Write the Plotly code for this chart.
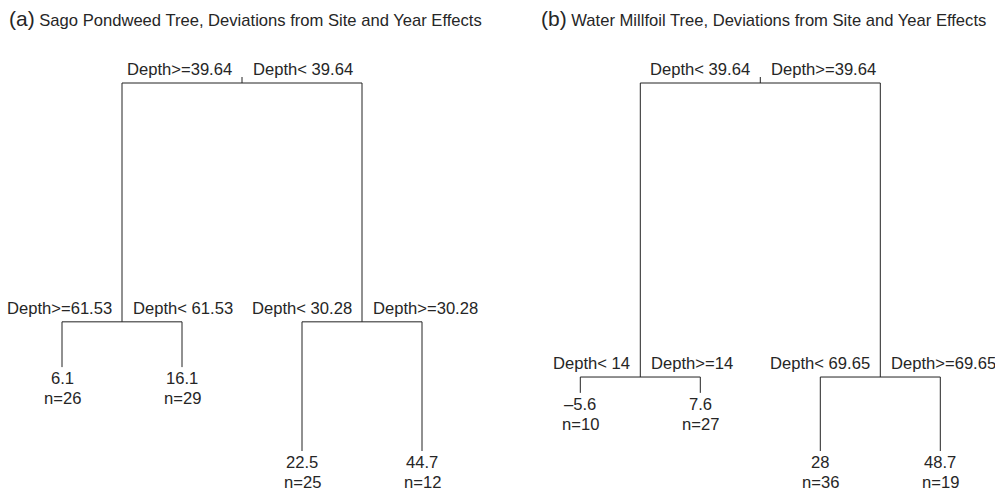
import plotly.graph_objects as go

# ---- data -------------------------------------------------------------
titles = ["Sago Pondweed Tree, Deviations from Site and Year Effects",
          "Water Millfoil Tree, Deviations from Site and Year Effects"]
panel_tags = ["(a)", "(b)"]

# split labels: [root, left child, right child]
a_split_left = ["Depth>=39.64", "Depth>=61.53", "Depth< 30.28"]
a_split_right = ["Depth< 39.64", "Depth< 61.53", "Depth>=30.28"]
b_split_left = ["Depth< 39.64", "Depth< 14", "Depth< 69.65"]
b_split_right = ["Depth>=39.64", "Depth>=14", "Depth>=69.65"]

# leaves (left to right)
a_leaf_values = [6.1, 16.1, 22.5, 44.7]
a_leaf_n = [26, 29, 25, 12]
b_leaf_values = [-5.6, 7.6, 28, 48.7]
b_leaf_n = [10, 27, 36, 19]

# relative node heights (root = 1): [root, left child, right child]
a_node_height = [1.0, 0.351, 0.351]
a_leaf_height = [0.228, 0.228, 0.0, 0.0]
b_node_height = [1.0, 0.201, 0.201]
b_leaf_height = [0.158, 0.158, 0.0, 0.0]

panels = [
    dict(sl=a_split_left, sr=a_split_right, vals=a_leaf_values, n=a_leaf_n,
         nh=a_node_height, lh=a_leaf_height),
    dict(sl=b_split_left, sr=b_split_right, vals=b_leaf_values, n=b_leaf_n,
         nh=b_node_height, lh=b_leaf_height),
]

# ---- layout constants ----------------------------------------------------
W, H = 995, 493
LINE = "#222222"
TXT = "#262626"
FONT = "Liberation Sans, Arial, Helvetica, sans-serif"
FS = 16.6
PX_PER_UNIT_Y = 368.0
Y_TOP = 1 + 83 / PX_PER_UNIT_Y
Y_BOT = -(H - 451) / PX_PER_UNIT_Y
PX_PER_LEAF = 120.0
half = W / 2
x_ranges = [[1 - 62 / PX_PER_LEAF, 1 - 62 / PX_PER_LEAF + half / PX_PER_LEAF],
            [1 - 82.8 / PX_PER_LEAF, 1 - 82.8 / PX_PER_LEAF + half / PX_PER_LEAF]]

fig = go.Figure()
annotations = []

for k, p in enumerate(panels):
    xa = "x" if k == 0 else "x2"
    ya = "y" if k == 0 else "y2"
    leaf_x = [1, 2, 3, 4]
    child_x = [(leaf_x[0] + leaf_x[1]) / 2, (leaf_x[2] + leaf_x[3]) / 2]
    root_x = (child_x[0] + child_x[1]) / 2
    rh = p["nh"][0]
    ch = p["nh"][1:]
    xs, ys = [], []
    tick = 6 / PX_PER_UNIT_Y
    xs += [root_x, root_x, None]
    ys += [rh, rh + tick, None]
    xs += [child_x[0], child_x[0], child_x[1], child_x[1], None]
    ys += [ch[0], rh, rh, ch[1], None]
    for c in range(2):
        l1, l2 = leaf_x[2 * c], leaf_x[2 * c + 1]
        h1, h2 = p["lh"][2 * c], p["lh"][2 * c + 1]
        xs += [l1, l1, l2, l2, None]
        ys += [h1, ch[c], ch[c], h2, None]
    fig.add_trace(go.Scatter(x=xs, y=ys, mode="lines", xaxis=xa, yaxis=ya,
                             line=dict(color=LINE, width=1), hoverinfo="skip",
                             showlegend=False))
    nodes = [(root_x, rh), (child_x[0], ch[0]), (child_x[1], ch[1])]
    for i, (nx, ny) in enumerate(nodes):
        annotations.append(dict(x=nx, y=ny, xref=xa, yref=ya, text=p["sl"][i],
                                showarrow=False, xanchor="right", yanchor="middle",
                                xshift=-9.5, yshift=13.5, borderpad=0,
                                font=dict(size=FS, color=TXT, family=FONT)))
        annotations.append(dict(x=nx, y=ny, xref=xa, yref=ya, text=p["sr"][i],
                                showarrow=False, xanchor="left", yanchor="middle",
                                xshift=10, yshift=13.5, borderpad=0,
                                font=dict(size=FS, color=TXT, family=FONT)))
    for j in range(4):
        v = p["vals"][j]
        vt = f"{v:g}".replace("-", "\u2013")
        annotations.append(dict(x=leaf_x[j], y=p["lh"][j], xref=xa, yref=ya, text=vt,
                                showarrow=False, xanchor="center", yanchor="middle",
                                yshift=-11.5, borderpad=0,
                                font=dict(size=FS, color=TXT, family=FONT)))
        annotations.append(dict(x=leaf_x[j], y=p["lh"][j], xref=xa, yref=ya,
                                text=f"n={p['n'][j]}",
                                showarrow=False, xanchor="center", yanchor="middle",
                                yshift=-31.5, borderpad=0,
                                font=dict(size=FS, color=TXT, family=FONT)))

title_x = [8, 540]
for k in range(2):
    annotations.append(dict(
        x=title_x[k] / W, y=1 - 18 / H, xref="paper", yref="paper",
        text=f"<span style='font-size:21px'>{panel_tags[k]}</span> {titles[k]}",
        showarrow=False, xanchor="left", yanchor="middle", borderpad=0,
        font=dict(size=FS, color=TXT, family=FONT)))

axis_common = dict(visible=False, showgrid=False, zeroline=False, fixedrange=True)
fig.update_layout(
    width=W, height=H,
    margin=dict(l=0, r=0, t=0, b=0),
    paper_bgcolor="white", plot_bgcolor="white",
    xaxis=dict(domain=[0, 0.5], range=x_ranges[0], **axis_common),
    xaxis2=dict(domain=[0.5, 1], range=x_ranges[1], **axis_common),
    yaxis=dict(domain=[0, 1], range=[Y_BOT, Y_TOP], **axis_common),
    yaxis2=dict(domain=[0, 1], range=[Y_BOT, Y_TOP], anchor="x2", **axis_common),
    annotations=annotations,
    showlegend=False,
)
fig.write_html("out.html", config={"displayModeBar": False},
               post_script="document.body.style.margin='0';document.body.style.overflow='hidden';")
